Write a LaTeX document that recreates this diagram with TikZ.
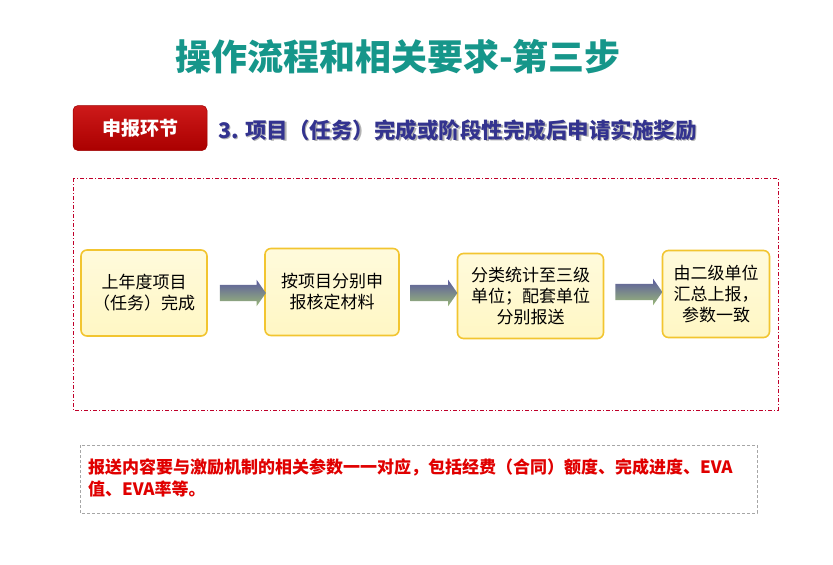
\documentclass[tikz,border=0pt]{standalone}
\usepackage{fontspec}
\setmainfont{Noto Sans CJK SC}
\usetikzlibrary{shapes.arrows,shadows}
\definecolor{titleteal}{HTML}{16968A}
\definecolor{subblue}{HTML}{33338F}
\definecolor{tagred}{HTML}{C80000}
\definecolor{frame}{HTML}{C0002A}
\definecolor{boxfill}{HTML}{FFF7C4}
\definecolor{boxedge}{HTML}{F2C530}
\definecolor{arrtop}{HTML}{5A5A9E}
\definecolor{arrbot}{HTML}{9AB878}
\definecolor{notered}{HTML}{E00000}
\tikzset{
  px/.style={x=1pt,y=-1pt},
  stepbox/.style={draw=boxedge,line width=1.6pt,rounded corners=6pt,
    top color=boxfill!60!white,bottom color=boxfill,
    align=center,font=\fontsize{17}{21}\selectfont,inner sep=0pt},
  flowarrow/.style={single arrow,draw=none,minimum height=46pt,
    inner xsep=0pt,inner ysep=8pt,text width=0pt,
    single arrow head extend=5pt,single arrow tip angle=110,
    top color=arrtop,bottom color=arrbot,shading angle=0},
}
\begin{document}
\begin{tikzpicture}[px]
\useasboundingbox (0,0) rectangle (833,565);
\fill[white] (0,0) rectangle (833,565);
% title
\node[font=\bfseries\fontsize{36}{40}\selectfont,text=titleteal] (title) at (398,57) {操作流程和相关要求-第三步};
% tag
\node[draw=tagred!80!black,line width=0.5pt,top color=tagred!90!white,bottom color=tagred!85!black,rounded corners=5pt,
  minimum width=134pt,minimum height=45pt,text=white,font=\bfseries\fontsize{19}{22}\selectfont] (tag) at (140,128) {申报环节};
% subtitle with shadow
\node[font=\bfseries\fontsize{21.5}{24}\selectfont,text=gray!60,anchor=west,inner sep=0pt] (subsh) at (219.5,131.5) {3. 项目（任务）完成或阶段性完成后申请实施奖励};
\node[font=\bfseries\fontsize{21.5}{24}\selectfont,text=subblue,anchor=west,inner sep=0pt] (sub) at (218,130) {3. 项目（任务）完成或阶段性完成后申请实施奖励};
% dashed frame
\draw[frame,line width=0.6pt,dash pattern=on 4pt off 2pt on 1pt off 2pt] (73,178) rectangle (778,410);
% steps
\node[stepbox,minimum width=126pt,minimum height=86pt] (s1) at (144,293) {上年度项目\\（任务）完成};
\node[stepbox,minimum width=134pt,minimum height=87pt] (s2) at (332,292) {按项目分别申\\报核定材料};
\node[stepbox,minimum width=146pt,minimum height=85pt] (s3) at (530.5,296) {分类统计至三级\\单位；配套单位\\分别报送};
\node[stepbox,minimum width=107pt,minimum height=87pt] (s4) at (716,294) {由二级单位\\汇总上报，\\参数一致};
% arrows
\node[flowarrow] (a1) at (240,293) {};
\node[flowarrow,minimum height=47pt] (a2) at (431,293) {};
\node[flowarrow,minimum height=47pt] (a3) at (636,292) {};
% note box
\draw[gray!70,line width=0.6pt,dash pattern=on 3pt off 2pt] (80,445) rectangle (757,513);
\node[anchor=north west,align=left,text=notered,font=\bfseries\fontsize{17}{22}\selectfont,inner sep=0pt] (note) at (88,458)
  {报送内容要与激励机制的相关参数一一对应，包括经费（合同）额度、完成进度、EVA\\值、EVA率等。};
\end{tikzpicture}
\end{document}
